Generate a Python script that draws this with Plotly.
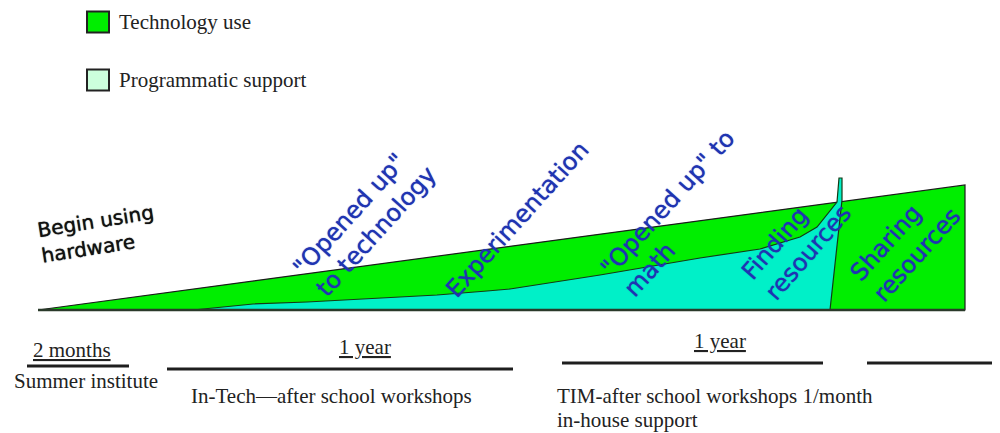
import plotly.graph_objects as go

# ---- data (diagram coordinates: x to the right, y downward, canvas units) ----
tech_x = [38, 965, 965, 38]
tech_y = [310, 185, 310, 310]

support_x = [193, 253, 307, 377, 437, 487, 510, 600, 700, 760, 800, 817, 833, 837, 839, 842, 842, 830, 193]
support_y = [310, 304, 302, 298, 295, 291, 289, 275, 258, 249, 237, 227, 207, 202, 178, 178, 200, 310, 310]

legend_labels = ["Technology use", "Programmatic support"]
legend_colors = ["#00EE00", "#CCFFDD"]
legend_y = [22, 80]

phase_labels = ['Begin using<br>hardware', '"Opened up"<br>to technology', 'Experimentation',
                '"Opened up" to<br>math', 'Finding<br>resources', 'Sharing<br>resources']
phase_x = [97, 364, 517, 679, 796, 905]
phase_y = [234, 221, 220, 213, 242, 244]
phase_angle = [-9, -48, -48, -48, -49, -48]
phase_size = [20, 24, 24, 24, 24, 24]
phase_color = ["#111111", "#1F34B2", "#1F34B2", "#1F34B2", "#1F34B2", "#1F34B2"]

seg_x0 = [27, 167, 562, 867]
seg_x1 = [129, 513, 823, 1000]
seg_y = [366, 369, 363, 363]

dur_labels = ["2 months", "1 year", "1 year"]
dur_x = [72, 365, 720]
dur_y = [350, 347, 341]

prog_labels = ["Summer institute", "In-Tech\u2014after school workshops",
               "TIM-after school workshops 1/month", "in-house support"]
prog_x = [12, 189, 555, 555]
prog_y = [381, 396, 396, 420]

GREEN = "#00EE00"
CYAN = "#00F0C8"
SERIF = "Liberation Serif, Times New Roman, serif"
SANS = "DejaVu Sans, Verdana, sans-serif"

fig = go.Figure()
fig.add_trace(go.Scatter(x=tech_x, y=tech_y, mode="lines", fill="toself",
                         fillcolor=GREEN, line=dict(color="#1b1b1b", width=1.2),
                         hoverinfo="skip", showlegend=False))
fig.add_trace(go.Scatter(x=support_x, y=support_y, mode="lines", fill="toself",
                         fillcolor=CYAN, line=dict(color="#143a14", width=1.2),
                         hoverinfo="skip", showlegend=False))
# bottom base line
fig.add_trace(go.Scatter(x=[tech_x[0], tech_x[1]], y=[tech_y[2], tech_y[2]], mode="lines",
                         line=dict(color="#2a3a2a", width=2.5), hoverinfo="skip", showlegend=False))

# legend swatches
for lab, col, ly in zip(legend_labels, legend_colors, legend_y):
    fig.add_shape(type="rect", x0=87, x1=109, y0=ly - 10.5, y1=ly + 10.5,
                  fillcolor=col, line=dict(color="#222222", width=2))
    fig.add_annotation(x=117, y=ly, text=lab, showarrow=False, xanchor="left", yanchor="middle",
                       font=dict(family=SERIF, size=21, color="#222222"))

# phase labels
for t, x, y, a, s, c in zip(phase_labels, phase_x, phase_y, phase_angle, phase_size, phase_color):
    fig.add_annotation(x=x, y=y, text=t, showarrow=False, textangle=a, align="left",
                       xanchor="center", yanchor="middle",
                       font=dict(family=SANS, size=s, color=c, shadow="0 0 1px " + c))

# timeline segments
for x0, x1, y in zip(seg_x0, seg_x1, seg_y):
    fig.add_shape(type="line", x0=x0, x1=x1, y0=y, y1=y, line=dict(color="#1e1e1e", width=2.8))

for t, x, y in zip(dur_labels, dur_x, dur_y):
    fig.add_annotation(x=x, y=y, text=t, showarrow=False, xanchor="center", yanchor="middle",
                       font=dict(family=SERIF, size=21, color="#222222", lineposition="under"))

for t, x, y in zip(prog_labels, prog_x, prog_y):
    fig.add_annotation(x=x, y=y, text=t, showarrow=False, xanchor="left", yanchor="middle",
                       align="left", font=dict(family=SERIF, size=21, color="#222222"))

# the page body has an 8px margin: size the figure to the remaining window and
# let the axis ranges start at 8 so canvas units match window pixels
fig.update_layout(width=992, height=425, margin=dict(l=0, r=0, t=0, b=0),
                  paper_bgcolor="white", plot_bgcolor="white",
                  xaxis=dict(range=[8, 1000], visible=False, fixedrange=True),
                  yaxis=dict(range=[433, 8], visible=False, fixedrange=True))
fig.write_html("out.html")
